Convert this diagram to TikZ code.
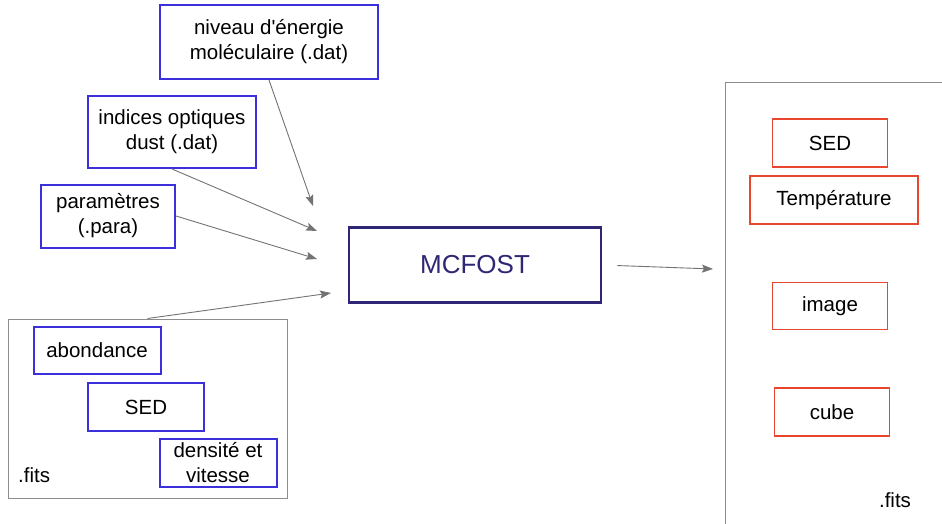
\documentclass[tikz,border=0pt]{standalone}
\usepackage{fontspec}
\setmainfont{Liberation Sans}
\usetikzlibrary{arrows.meta, positioning}
\definecolor{inblue}{HTML}{3B30DC}
\definecolor{outred}{HTML}{E8462E}
\definecolor{navy}{HTML}{2F2675}
\definecolor{framegray}{HTML}{8C8C8C}

\begin{document}
\begin{tikzpicture}[>=Stealth, x=1pt, y=-1pt,
    txt/.style={font=\fontsize{20.5}{25}\selectfont, align=center, inner sep=0pt},
    inbox/.style={txt, draw=inblue, line width=2pt},
    outbox/.style={txt, draw=outred, line width=1.8pt},
    frame/.style={draw=framegray, line width=1pt, inner sep=0pt},
    link/.style={->, draw=black!55, line width=0.9pt,
      >={Stealth[length=11pt, width=8pt, inset=2pt]}}]
  \clip (0,0) rectangle (942,524);
  \useasboundingbox (0,0) rectangle (942,524);

  % Input files
  \node[inbox, minimum width=218, minimum height=74] (niveau) at (269,42)
    {niveau d\textquotesingle énergie\\moléculaire (.dat)};
  \node[inbox, minimum width=168, minimum height=72] (indices) at (172,132)
    {indices optiques\\dust (.dat)};
  \node[inbox, minimum width=134, minimum height=63] (param) at (108,216)
    {paramètres\\(.para)};

  % Input .fits frame
  \node[frame, minimum width=279, minimum height=179] (fitsin) at (147.5,408.5) {};
  \node[inbox, minimum width=127, minimum height=47] (abond) at (97,350) {abondance};
  \node[inbox, minimum width=116, minimum height=48] (sedin) at (146,407) {SED};
  \node[inbox, minimum width=117, minimum height=48] (dens) at (218,463)
    {densité et\\vitesse};
  \node[txt, anchor=west] (fitsinlbl) at (18,475) {.fits};

  % Code
  \node[txt, draw=navy, line width=2.8pt, text=navy, font=\fontsize{26}{30}\selectfont,
    minimum width=252, minimum height=75] (mcfost) at (475,265) {MCFOST};

  % Output .fits frame
  \node[frame, minimum width=240, minimum height=470] (fitsout) at (845,318) {};
  \node[outbox, minimum width=115, minimum height=48] (sedout) at (830,143) {SED};
  \node[outbox, minimum width=168, minimum height=48] (temp) at (834,200) {Température};
  \node[outbox, minimum width=115, minimum height=47] (image) at (830,306) {image};
  \node[outbox, minimum width=115, minimum height=48] (cube) at (832,412) {cube};
  \node[txt] (fitsoutlbl) at (895,500) {.fits};

  % Arrows
  \coordinate (inA) at (313,206);
  \coordinate (inB) at (317,231);
  \coordinate (inC) at (317,259);
  \coordinate (inD) at (331,293);
  \coordinate (outA) at (713,269);
  \draw[link] (niveau.south) -- (inA);
  \draw[link] (indices.south) -- (inB);
  \draw[link] (param.east) -- (inC);
  \draw[link] (fitsin.north) -- (inD);
  \draw[link, shorten <=15pt] (mcfost.east) -- (outA);
\end{tikzpicture}
\end{document}
